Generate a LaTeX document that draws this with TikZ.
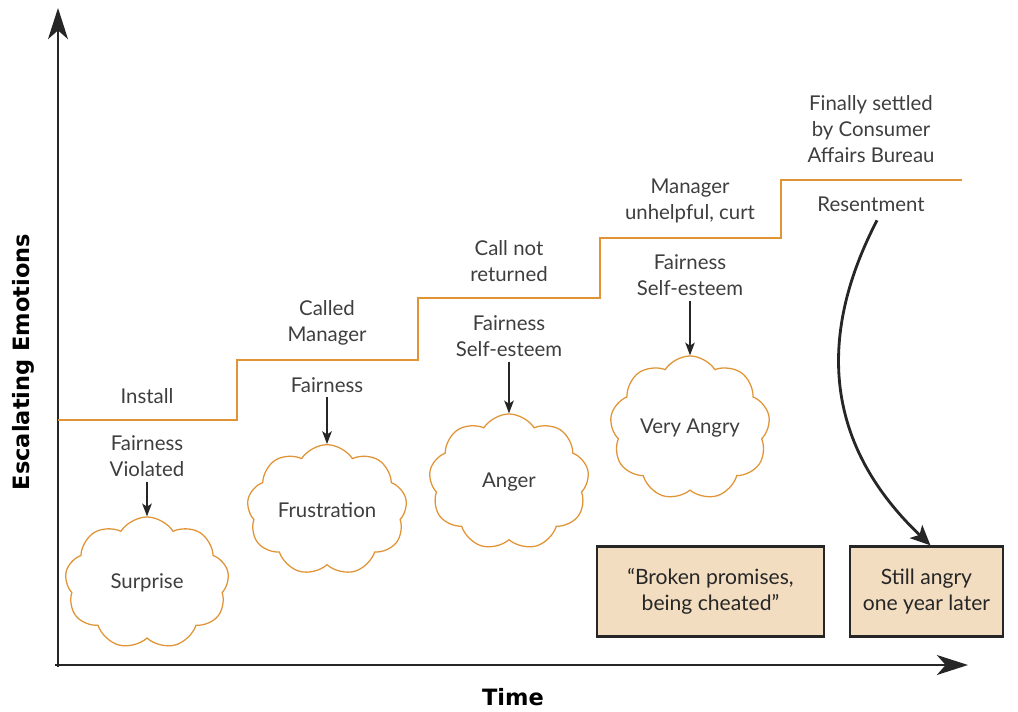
\documentclass[tikz,border=0pt]{standalone}
\usepackage{fontspec}
\setmainfont{Lato}
\newfontfamily\axisfont{DejaVu Sans}
\usepackage{tikz}
\usetikzlibrary{arrows,arrows.meta,shapes.symbols,positioning}
\definecolor{stairorange}{RGB}{224,148,54}
\definecolor{boxtan}{RGB}{243,221,193}
\definecolor{softgray}{RGB}{62,62,62}
\tikzset{>={Stealth[length=0.32cm,width=0.24cm,inset=0.08cm]}}
\tikzset{event node/.style={align=center,text=softgray,font=\fontsize{14.5}{18.5}\selectfont},
            feel node/.style={cloud,draw=stairorange,line width=0.9pt,cloud puffs=9,cloud puff arc=115,aspect=1.25,
                inner sep=0pt,minimum width=4cm,minimum height=3.2cm,align=center,text=softgray,font=\fontsize{14.5}{18.5}\selectfont},
            quote node/.style={draw=black!85,line width=1.6pt,fill=boxtan,align=center,minimum height=2.25cm,
                text=black!85,font=\fontsize{15}{18.5}\selectfont},
            axis line/.style={draw=black!85,line width=1.1pt,-{Stealth[length=0.78cm,width=0.5cm,inset=0.22cm]}},
            stair line/.style={draw=stairorange,line width=1pt},
            }

\begin{document}
\begin{tikzpicture}[x=0.025cm,y=-0.025cm]

    \useasboundingbox (0,0) rectangle (1018,711);

    \coordinate (origin) at (58,667);
    \coordinate (ytip) at (58,8);
    \coordinate (xstart) at (55,665);
    \coordinate (xtip) at (968,665);
    \draw[axis line] (origin) -- (ytip);
    \draw[axis line] (xstart) -- (xtip);

    \node[font=\axisfont\bfseries\fontsize{16}{19}\selectfont] (time) at (513,697) {Time};
    \node[font=\axisfont\bfseries\fontsize{16}{19}\selectfont,rotate=90] (emotions) at (23,362) {Escalating Emotions};

    \draw[stair line] (58,420) -| (237,360) -| (418,298) -| (600,238) -| (781,180) -- (962,180);

    \node[event node] (install) at (147,396) {Install};
    \node[event node] (callmgr) at (327,323) {Called\\Manager};
    \node[event node] (notret) at (509,261) {Call not\\returned};
    \node[event node] (curt) at (690,201) {Manager\\unhelpful, curt};
    \node[event node] (settled) at (871,129) {Finally settled\\by Consumer\\Affairs Bureau};

    \node[event node] (fair1) at (147,456) {Fairness\\Violated};
    \node[event node] (fair2) at (327,385) {Fairness};
    \node[event node] (fair3) at (509,336) {Fairness\\Self-esteem};
    \node[event node] (fair4) at (690,275) {Fairness\\Self-esteem};
    \node[event node] (resent) at (871,204) {Resentment};

    \node[feel node,minimum width=4.1cm,minimum height=3.3cm] (surprise) at (147,583) {Surprise};
    \node[feel node] (frustration) at (327,510) {Frustration};
    \node[feel node,minimum height=3.4cm] (anger) at (509,482) {Anger};
    \node[feel node,minimum height=3.6cm] (veryangry) at (690,428) {Very Angry};

    \node[quote node,minimum width=5.68cm] (broken) at (710.5,591.5) {``Broken promises,\\being cheated''};
    \node[quote node,minimum width=3.83cm] (still) at (926.5,591.5) {Still angry\\one year later};

    \path[draw,line width=0.9pt,black!85,->]
    (fair1) edge (surprise)
    (fair2) edge (frustration)
    (fair3) edge (anger)
    (fair4) edge (veryangry);

    \draw[line width=2pt,black!85,-{Stealth[length=0.5cm,width=0.45cm,inset=0.12cm]}]
    (resent.south) ++(6,4) .. controls (820,330) and (820,440) .. ([xshift=0.1cm]still.north);

\end{tikzpicture}
\end{document}
